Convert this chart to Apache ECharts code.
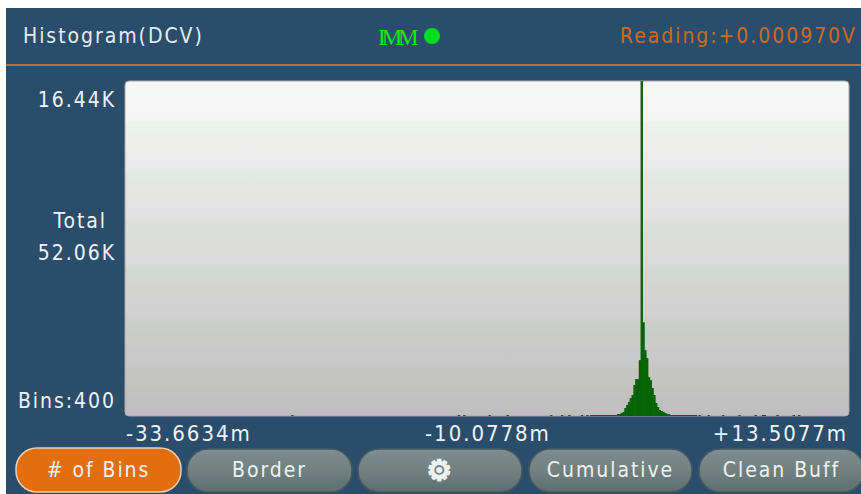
<!DOCTYPE html>
<html>
<head>
<meta charset="utf-8">
<title>Histogram(DCV)</title>
<script src="https://cdn.jsdelivr.net/npm/echarts@6/dist/echarts.min.js"></script>
<style>
html, body { margin: 0; padding: 0; background: #fff; }
#main { width: 861px; height: 494px; letter-spacing: 1.95px; }
/* the IMM mark has its letters run together */
#main svg text[fill="#19e619"] { letter-spacing: -4px; }
</style>
</head>
<body>
<div id="main"></div>
<script>
// histogram values
var binCount = 400;
var yMax = 16440;
var xTickBins = [0, 200, 399];
var xTickLabels = ['-33.6634m', '-10.0778m', '+13.5077m'];
// bins around the peak
var peakBins = [257, 258, 259, 260, 261, 262, 263, 264, 265, 266, 267, 268, 269, 270, 271, 272, 273, 274, 275, 276, 277, 278, 279, 280, 281, 282, 283, 284, 285, 286, 287, 288, 289, 290, 291, 292, 293, 294, 295, 296, 297, 298, 299, 300, 301, 302, 303, 304, 305, 306, 307, 308, 309, 310, 311, 312, 313, 314, 315];
var peakCounts = [50, 50, 50, 50, 50, 50, 50, 50, 50, 50, 50, 50, 50, 50, 50, 100, 100, 150, 200, 390, 540, 690, 880, 1030, 1520, 1810, 1810, 2740, 16440, 4600, 3230, 2840, 1910, 1760, 1370, 1030, 640, 440, 290, 250, 200, 150, 100, 100, 50, 50, 50, 50, 50, 50, 50, 50, 50, 50, 50, 50, 50, 50, 50];
// lone small bars away from the peak
var strayBins = [92, 184, 187, 201, 211, 235, 241, 245, 252, 255, 317, 322, 330, 339, 348, 352, 353, 360, 369, 372];
var strayCounts = [50, 50, 50, 50, 50, 50, 50, 50, 50, 50, 50, 50, 50, 50, 50, 50, 50, 50, 50, 50];
var buttonLabels = ['# of Bins', 'Border', '\u2699', 'Cumulative', 'Clean Buff'];
var buttonLeft = [16, 187, 358, 529, 699];
var buttonWidth = [165, 165, 164, 163, 165];

var categories = [];
var counts = [];
for (var i = 0; i < binCount; i++) {
	categories.push(i);
	counts.push(null);
}
strayBins.forEach(function(b, i) { counts[b] = strayCounts[i]; });
peakBins.forEach(function(b, i) { counts[b] = peakCounts[i]; });

var FONT = '"DejaVu Sans Condensed", "DejaVu Sans"';
var chart = echarts.init(document.getElementById('main'), null, { renderer: 'svg' });

// helper for plain text elements
function label(text, x, y, color, size, align) {
	return {
		type: 'text',
		z: 5,
		style: {
			text: text, x: x, y: y, fill: color,
			font: size + 'px ' + FONT,
			textAlign: align || 'left',
			textVerticalAlign: 'middle'
		}
	};
}

var graphics = [
	{ type: 'rect', z: -10, shape: { x: 6, y: 8, width: 855, height: 486 }, style: { fill: '#2b4d6c' } },
	{ type: 'rect', z: -9, shape: { x: 6, y: 64, width: 855, height: 2 }, style: { fill: '#c46a2a' } },
	// plot panel with stepped shading
	{
		type: 'rect',
		z: -5,
		shape: { x: 125, y: 81, width: 724, height: 335, r: 4 },
		style: {
			stroke: '#a6a8aa',
			lineWidth: 1,
			fill: new echarts.graphic.LinearGradient(0, 0, 0, 1, [
				{ offset: 0, color: '#f5f8f5' },
				{ offset: 0.116, color: '#f6f5f6' },
				{ offset: 0.125, color: '#edf0ec' },
				{ offset: 0.26, color: '#ebeaeb' },
				{ offset: 0.27, color: '#e5e8e3' },
				{ offset: 0.409, color: '#e3e1e3' },
				{ offset: 0.42, color: '#dcdfda' },
				{ offset: 0.549, color: '#dad9da' },
				{ offset: 0.56, color: '#d4d7d2' },
				{ offset: 0.699, color: '#d2d0d2' },
				{ offset: 0.71, color: '#cccfca' },
				{ offset: 0.842, color: '#c9c7c9' },
				{ offset: 0.85, color: '#c6c7c4' },
				{ offset: 1, color: '#c0bec0' }
			])
		}
	},
	label('Histogram(DCV)', 23, 36, '#e6ecee', 21),
	label('Reading:+0.000970V', 620, 36, '#cc6a1e', 21),
	{
		type: 'text', z: 5,
		style: { text: 'IMM', x: 378, y: 37, fill: '#19e619', font: '23px "Liberation Serif"', textAlign: 'left', textVerticalAlign: 'middle' }
	},
	{ type: 'circle', z: 5, shape: { cx: 432, cy: 36, r: 8 }, style: { fill: '#00dd22' } },
	label('16.44K', 116, 100, '#f0f3f4', 21, 'right'),
	label('Total', 107, 221, '#f0f3f4', 21, 'right'),
	label('52.06K', 116, 253, '#f0f3f4', 21, 'right'),
	label('Bins:400', 116, 401, '#f0f3f4', 21, 'right')
];

buttonLabels.forEach(function(text, i) {
	var active = i === 0;
	graphics.push({
		type: 'rect',
		z: 4,
		shape: { x: buttonLeft[i], y: active ? 448 : 449, width: buttonWidth[i], height: active ? 44 : 43, r: 21 },
		style: {
			fill: active ? '#e26e10' : new echarts.graphic.LinearGradient(0, 0, 0, 1, [
				{ offset: 0, color: '#7d8d92' },
				{ offset: 0.5, color: '#71817f' },
				{ offset: 1, color: '#5d6e72' }
			]),
			stroke: active ? '#f0cfae' : '#46585f',
			lineWidth: 1.5
		}
	});
	var t = label(text, buttonLeft[i] + buttonWidth[i] / 2, 470, '#eef2f2', i === 2 ? 30 : 21, 'center');
	if (i === 2) {
		// the gear is drawn solid in the original
		t.style.font = '28px "DejaVu Sans"';
		t.style.stroke = '#eef2f2';
		t.style.lineWidth = 2;
	}
	graphics.push(t);
});

chart.setOption({
	animation: false,
	backgroundColor: '#fff',
	grid: { left: 125, right: 12, top: 81, bottom: 78 },
	xAxis: {
		type: 'category',
		data: categories,
		axisLine: { show: false },
		axisTick: { show: false },
		splitLine: { show: false },
		axisLabel: {
			interval: function(index) { return xTickBins.indexOf(index) >= 0; },
			formatter: function(value, index) { return xTickLabels[xTickBins.indexOf(index)]; },
			alignMinLabel: 'left',
			alignMaxLabel: 'right',
			color: '#f0f3f4',
			fontFamily: FONT,
			fontSize: 22,
			margin: 6,
			hideOverlap: false
		}
	},
	yAxis: {
		type: 'value',
		min: 0,
		max: yMax,
		show: false
	},
	series: [{
		type: 'bar',
		data: counts,
		barWidth: 2.4,
		barGap: 0,
		itemStyle: { color: '#056305' }
	}],
	graphic: graphics
});
</script>
</body>
</html>
